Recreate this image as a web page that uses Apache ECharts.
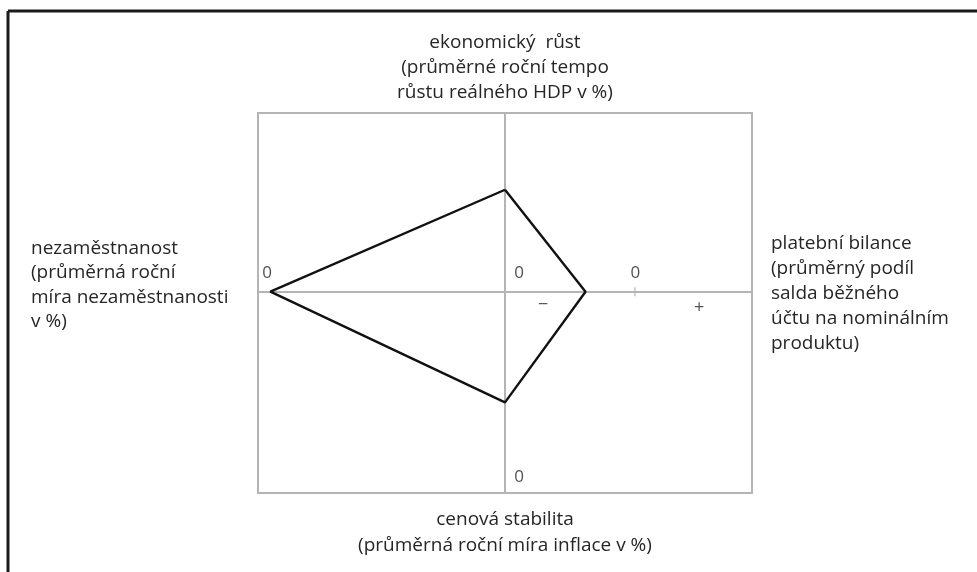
<!DOCTYPE html>
<html>
<head>
<meta charset="utf-8">
<script src="https://cdn.jsdelivr.net/npm/echarts@6/dist/echarts.min.js"></script>
<style>
html,body{margin:0;padding:0;background:#fff;}
#c{width:977px;height:572px;}
</style>
</head>
<body>
<div id="c"></div>
<script>
// Indicators of the "magic quadrilateral" (order: top, right, bottom, left)
const indicatorNames = ['ekonomický  růst', 'platební bilance', 'cenová stabilita', 'nezaměstnanost'];
const indicatorNotes = [
  '(průměrné roční tempo\nrůstu reálného HDP v %)',
  '(průměrný podíl\nsalda běžného\núčtu na nominálním\nproduktu)',
  '(průměrná roční míra inflace v %)',
  '(průměrná roční\nmíra nezaměstnanosti\nv %)'
];
// Values measured along each indicator's own axis, counted from that axis's "0"
const growthValue = [4.05];        // upward from centre
const balanceValue = [-2.0];       // from balance zero, + to the right
const inflationValue = [3.6];      // upward from the bottom zero
const unemploymentValue = [0.5];   // rightward from the left zero
const zeroLabels = ['0', '0', '0', '0'];
const signLabels = ['−', '+'];

// Axis layout (grid units)
const X_MIN = -10, X_MAX = 10, Y_MIN = -8, Y_MAX = 7.1;
const BALANCE_ZERO = 5.26;   // position of balance "0" on the horizontal axis
const UNEMP_ZERO = X_MIN;    // unemployment "0" at the left edge
const INFL_ZERO = Y_MIN;     // inflation "0" at the bottom edge

const pTop = [0, growthValue[0]];
const pRight = [BALANCE_ZERO + balanceValue[0], 0];
const pBottom = [0, INFL_ZERO + inflationValue[0]];
const pLeft = [UNEMP_ZERO + unemploymentValue[0], 0];
const polygon = [pTop, pRight, pBottom, pLeft, pTop];

const GRAY = '#b4b4b4';
const TXT = '#262626';
const FONT = '"Open Sans", "Noto Sans", sans-serif';

const chart = echarts.init(document.getElementById('c'), null, {renderer: 'canvas'});
chart.setOption({
  animation: false,
  backgroundColor: '#fff',
  grid: {left: 258, top: 113, width: 494, height: 380, show: true, borderColor: GRAY, borderWidth: 2, backgroundColor: 'transparent'},
  xAxis: {type: 'value', min: X_MIN, max: X_MAX,
    axisLine: {show: true, onZero: true, lineStyle: {color: GRAY, width: 2}},
    axisTick: {show: false}, axisLabel: {show: false}, splitLine: {show: false}},
  yAxis: {type: 'value', min: Y_MIN, max: Y_MAX,
    axisLine: {show: true, onZero: true, lineStyle: {color: GRAY, width: 2}},
    axisTick: {show: false}, axisLabel: {show: false}, splitLine: {show: false}},
  series: [
    {type: 'line', data: polygon, symbol: 'none', lineStyle: {color: '#111', width: 2.4}, z: 5},
    {type: 'scatter', symbol: 'rect', symbolSize: [1.5, 9], itemStyle: {color: GRAY},
      data: [[BALANCE_ZERO, 0]], silent: true},
    {type: 'scatter', symbolSize: 0, silent: true,
      label: {show: true, position: 'inside', color: TXT, fontSize: 17, fontFamily: FONT, formatter: p => p.data.t},
      data: [
        {value: [UNEMP_ZERO, 0], t: zeroLabels[0], label: {offset: [9, -19]}},
        {value: [0, 0], t: zeroLabels[1], label: {offset: [14, -19]}},
        {value: [BALANCE_ZERO, 0], t: zeroLabels[2], label: {offset: [0.5, -19]}},
        {value: [0, INFL_ZERO], t: zeroLabels[3], label: {offset: [14, -15.5]}},
        {value: [BALANCE_ZERO - 3.72, 0], t: signLabels[0], label: {offset: [0, 13], fontSize: 18}},
        {value: [BALANCE_ZERO + 2.6, 0], t: signLabels[1], label: {offset: [0, 16], fontSize: 18}}
      ]}
  ],
  graphic: [
    {type: 'line', shape: {x1: 8, y1: 11, x2: 977, y2: 11}, style: {stroke: '#1a1a1a', lineWidth: 3}},
    {type: 'line', shape: {x1: 8, y1: 11, x2: 8, y2: 572}, style: {stroke: '#1a1a1a', lineWidth: 3}},
    {type: 'text', x: 505, y: 30, style: {text: indicatorNames[0] + '\n' + indicatorNotes[0], fill: TXT, font: '19px ' + FONT, textAlign: 'center', lineHeight: 25}},
    {type: 'text', x: 505, y: 506, style: {text: indicatorNames[2] + '\n' + indicatorNotes[2], fill: TXT, font: '19px ' + FONT, textAlign: 'center', lineHeight: 26.5}},
    {type: 'text', x: 31, y: 236, style: {text: indicatorNames[3] + '\n' + indicatorNotes[3], fill: TXT, font: '19px ' + FONT, textAlign: 'left', lineHeight: 24.5}},
    {type: 'text', x: 771, y: 231, style: {text: indicatorNames[1] + '\n' + indicatorNotes[1], fill: TXT, font: '19px ' + FONT, textAlign: 'left', lineHeight: 25}}
  ]
});
</script>
</body>
</html>
